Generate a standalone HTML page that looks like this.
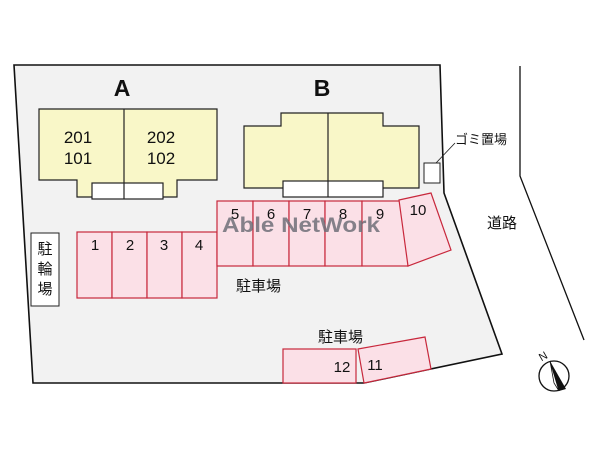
<!DOCTYPE html>
<html><head><meta charset="utf-8"><style>
html,body{margin:0;padding:0;background:#fff;}
svg{display:block;}
text{font-family:"Liberation Sans","Noto Sans CJK JP",sans-serif;}
</style></head><body>
<svg width="600" height="450" viewBox="0 0 600 450" xmlns="http://www.w3.org/2000/svg">
<polygon points="14,65 440,65 444,193 502,354 364,383 33,383" fill="#f2f2f2" stroke="#111" stroke-width="1.6"/>
<polyline points="520,66 520,176 584,340" fill="none" stroke="#111" stroke-width="1.3"/>
<text x="122" y="96" font-size="23" font-weight="bold" text-anchor="middle" fill="#111">A</text>
<text x="322" y="96" font-size="23" font-weight="bold" text-anchor="middle" fill="#111">B</text>
<!-- Building A -->
<polygon points="39,109 217,109 217,180 177,180 177,197 77,197 77,180 39,180" fill="#f9f7c8" stroke="#222" stroke-width="1.2"/>
<rect x="92" y="183" width="71" height="16" fill="#fff" stroke="#222" stroke-width="1.2"/>
<line x1="124" y1="109" x2="124" y2="199" stroke="#222" stroke-width="1.2"/>
<g font-size="17" fill="#111" text-anchor="middle">
<text x="78" y="143">201</text><text x="78" y="164">101</text>
<text x="161" y="143">202</text><text x="161" y="164">102</text>
<text x="282" y="147">202</text><text x="282" y="168">102</text>
<text x="358" y="147">201</text><text x="358" y="168">101</text>
</g>
<!-- Building B -->
<polygon points="244,126 281,126 281,113 383,113 383,126 419,126 419,188 244,188" fill="#f9f7c8" stroke="#222" stroke-width="1.2"/>
<rect x="283" y="181" width="100" height="16" fill="#fff" stroke="#222" stroke-width="1.2"/>
<line x1="328" y1="113" x2="328" y2="197" stroke="#222" stroke-width="1.2"/>
<!-- garbage -->
<rect x="424" y="163" width="16" height="20" fill="#fff" stroke="#222" stroke-width="1"/>
<line x1="436" y1="163" x2="455" y2="143" stroke="#222" stroke-width="0.9"/>
<text x="455" y="144" font-size="13" fill="#111">ゴミ置場</text>
<text x="487" y="228" font-size="15" fill="#111">道路</text>
<!-- parking -->
<g fill="#fbe0e7" stroke="#c8283c" stroke-width="1.2">
<rect x="77" y="232" width="35" height="66"/><rect x="112" y="232" width="35" height="66"/>
<rect x="147" y="232" width="35" height="66"/><rect x="182" y="232" width="35" height="66"/>
<rect x="217" y="201" width="36" height="65"/><rect x="253" y="201" width="36" height="65"/>
<rect x="289" y="201" width="36" height="65"/><rect x="325" y="201" width="37" height="65"/>
<rect x="362" y="201" width="46" height="65"/>
<polygon points="399,200 431,193 451,250 408,266"/>
<rect x="283" y="349" width="73" height="34"/>
<polygon points="358,349 425,337 431,369 364,383"/>
</g>
<g font-size="15" fill="#111" text-anchor="middle">
<text x="95" y="250">1</text><text x="130" y="250">2</text><text x="164" y="250">3</text><text x="199" y="250">4</text>
<text x="235" y="219">5</text><text x="271" y="219">6</text><text x="307" y="219">7</text><text x="343" y="219">8</text><text x="380" y="219">9</text>
<text x="418" y="215">10</text>
<text x="342" y="372">12</text><text x="375" y="370">11</text>
</g>
<text x="222" y="232" font-size="21" font-weight="bold" fill="#6e6e78" fill-opacity="0.85" textLength="158" lengthAdjust="spacingAndGlyphs">Able NetWork</text>
<text x="236" y="291" font-size="15" fill="#111">駐車場</text>
<text x="318" y="342" font-size="15" fill="#111">駐車場</text>
<rect x="31" y="233" width="28" height="73" fill="#fff" stroke="#222" stroke-width="1"/>
<g font-size="15" fill="#111" text-anchor="middle">
<text x="45" y="254">駐</text><text x="45" y="274">輪</text><text x="45" y="294">場</text>
</g>
<!-- compass -->
<circle cx="554" cy="376" r="15" fill="#fff" stroke="#111" stroke-width="1.3"/>
<polygon points="550,361 566,389 559,391" fill="#111"/>
<polygon points="550,361 559,391 554,383" fill="#fff" stroke="#111" stroke-width="0.8"/>
<text x="543" y="360" font-size="11" fill="#111" transform="rotate(-30 543 356)" text-anchor="middle">N</text>
</svg>
</body></html>
